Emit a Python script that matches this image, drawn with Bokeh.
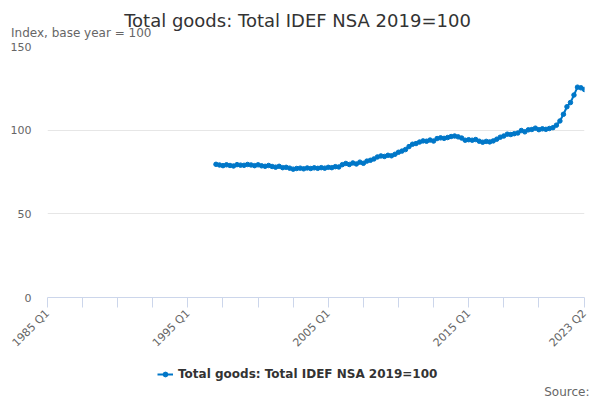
import math
from bokeh.plotting import figure
from bokeh.layouts import column
from bokeh.models import (ColumnDataSource, FixedTicker, Range1d, Legend, LegendItem, Label)
from bokeh.embed import file_html
from bokeh.resources import INLINE

# ---- data ----
first_year = 1985
last_year = 2023
last_quarter = 2
all_quarters = [f"{y} Q{q}" for y in range(first_year, last_year + 1) for q in range(1, 5)]
all_quarters = all_quarters[: all_quarters.index(f"{last_year} Q{last_quarter}") + 1]

start_quarter = "1997 Q1"
values = [
    79.6, 79.2, 78.8, 79.3,   # 1997
    78.9, 78.6, 79.4, 79.1,   # 1998
    79.0, 79.5, 79.2, 78.8,   # 1999
    79.3, 78.7, 78.4, 78.9,   # 2000
    78.3, 77.9, 78.4, 77.6,   # 2001
    77.8, 77.3, 76.7, 77.1,   # 2002
    77.3, 76.9, 77.4, 77.1,   # 2003
    77.5, 77.2, 77.6, 77.3,   # 2004
    77.8, 77.6, 78.2, 78.0,   # 2005
    79.4, 80.1, 79.5, 80.4,   # 2006
    79.8, 80.9, 80.2, 81.5,   # 2007
    82.0, 82.8, 84.0, 84.6,   # 2008
    84.3, 85.0, 84.7, 85.6,   # 2009
    86.8, 87.5, 88.4, 90.2,   # 2010
    91.6, 92.0, 92.9, 93.6,   # 2011
    93.4, 94.1, 93.5, 95.0,   # 2012
    95.4, 95.1, 95.6, 96.2,   # 2013
    96.5, 96.0, 95.3, 94.0,   # 2014
    94.3, 94.0, 94.4, 93.4,   # 2015
    92.8, 93.3, 93.0, 93.6,   # 2016
    94.6, 95.8, 96.5, 97.6,   # 2017
    97.4, 97.9, 98.3, 99.8,   # 2018
    99.0, 100.2, 100.4, 101.2,  # 2019
    100.3, 100.8, 100.5, 101.0,  # 2020
    101.5, 103.0, 105.5, 109.5,  # 2021
    114.0, 116.5, 121.0, 125.7,  # 2022
    125.3, 124.3,              # 2023
]
series_name = "Total goods: Total IDEF NSA 2019=100"
title_text = "Total goods: Total IDEF NSA 2019=100"
subtitle_text = "Index, base year = 100"
source_text = "Source:"
y_ticks = [0, 50, 100, 150]
x_label_quarters = ["1985 Q1", "1995 Q1", "2005 Q1", "2015 Q1", "2023 Q2"]

start_idx = all_quarters.index(start_quarter)
data_quarters = all_quarters[start_idx:start_idx + len(values)]
xs = [all_quarters.index(q) for q in data_quarters]

source = ColumnDataSource(dict(x=xs, y=values, q=data_quarters))

FONT = "DejaVu Sans"
BLUE = "#0077c8"
W = 590


def blank_fig(h, xr=None, yr=None):
    f = figure(width=W, height=h, output_backend="svg", toolbar_location=None,
               x_axis_location=None, y_axis_location=None,
               x_range=xr if xr is not None else Range1d(0, 1),
               y_range=yr if yr is not None else Range1d(0, 1),
               min_border=0, min_border_left=0, min_border_right=0,
               min_border_top=0, min_border_bottom=0, title=None)
    f.frame_align = False
    f.outline_line_color = None
    f.grid.grid_line_color = None
    f.background_fill_color = "white"
    f.border_fill_color = "white"
    return f


# ---- header ----
top = blank_fig(40)
top.add_layout(Label(x=297, y=20, x_units="screen", y_units="screen", text=title_text,
                     text_align="center", text_baseline="middle", text_font=FONT,
                     text_font_size="18px", text_color="#333333"))
top.add_layout(Label(x=10.5, y=8, x_units="screen", y_units="screen", text=subtitle_text,
                     text_align="left", text_baseline="middle", text_font=FONT,
                     text_font_size="12px", text_color="#666666"))

# ---- main chart ----
p = figure(width=W, height=318, output_backend="svg", toolbar_location=None,
           x_range=Range1d(0, len(all_quarters) - 1), y_range=Range1d(0, 150),
           min_border_left=47, min_border_right=W - 584, min_border_top=6,
           min_border_bottom=61, title=None)
p.frame_align = False
p.outline_line_color = None
p.background_fill_color = "white"
p.border_fill_color = "white"

ln = p.line("x", "y", source=source, line_color=BLUE, line_width=2)
sc = p.scatter("x", "y", source=source, size=4.5, fill_color=BLUE, line_color=BLUE)

tick_idx = list(range(0, len(all_quarters) - 10, 10)) + [len(all_quarters) - 1]
p.xaxis.ticker = FixedTicker(ticks=tick_idx)
overrides = {}
for t in tick_idx:
    lab = all_quarters[t]
    overrides[t] = lab if lab in x_label_quarters else ""
p.xaxis.major_label_overrides = overrides
p.xaxis.major_label_orientation = math.pi / 4
p.xaxis.axis_line_color = "#ccd6eb"
p.xaxis.major_tick_line_color = "#ccd6eb"
p.xaxis.major_tick_out = 10
p.xaxis.major_tick_in = 0
p.xaxis.minor_tick_line_color = None
p.xaxis.major_label_text_color = "#666666"
p.xaxis.major_label_text_font = FONT
p.xaxis.major_label_text_font_size = "11px"
p.xaxis.major_label_standoff = 4
p.xgrid.grid_line_color = None

p.yaxis.ticker = FixedTicker(ticks=y_ticks)
p.yaxis.axis_line_color = None
p.yaxis.major_tick_line_color = None
p.yaxis.minor_tick_line_color = None
p.yaxis.major_label_text_color = "#666666"
p.yaxis.major_label_text_font = FONT
p.yaxis.major_label_text_font_size = "11px"
p.yaxis.major_label_standoff = 10
p.ygrid.grid_line_color = "#e6e6e6"
p.ygrid.ticker = FixedTicker(ticks=y_ticks)

# ---- footer: legend + source ----
bottom = blank_fig(42, xr=Range1d(0, 1), yr=Range1d(1000, 1001))
lg_line = bottom.line("x", "y", source=source, line_color=BLUE, line_width=2)
lg_dot = bottom.scatter("x", "y", source=source, size=4.5, fill_color=BLUE, line_color=BLUE)
legend = Legend(items=[LegendItem(label=series_name, renderers=[lg_line, lg_dot])],
                location=(157, 19), orientation="horizontal",
                border_line_color=None, background_fill_alpha=0,
                label_text_font=FONT, label_text_font_size="12px",
                label_text_font_style="bold", label_text_color="#333333",
                glyph_width=16, glyph_height=12, label_standoff=5,
                padding=0, margin=0, spacing=0)
bottom.add_layout(legend)
bottom.add_layout(Label(x=589, y=9, x_units="screen", y_units="screen", text=source_text,
                        text_align="right", text_baseline="middle", text_font=FONT,
                        text_font_size="12px", text_color="#666666"))

layout = column(top, p, bottom, spacing=0)
open("out.html", "w").write(file_html(layout, INLINE))
